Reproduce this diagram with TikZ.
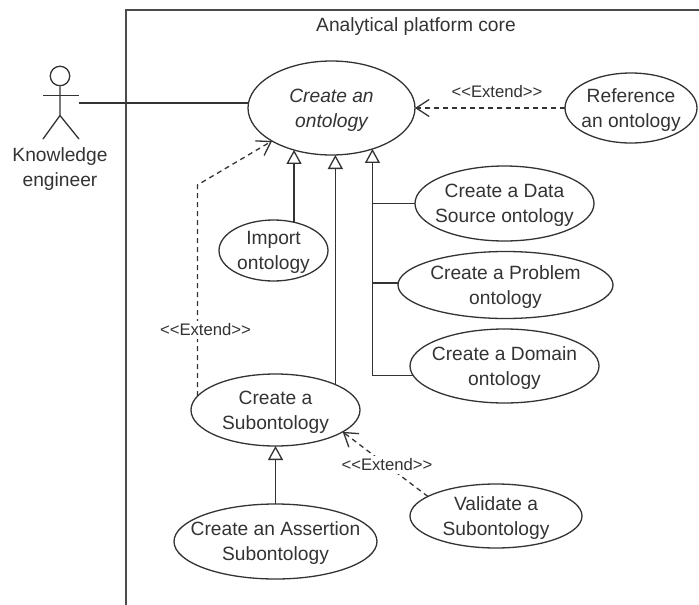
\documentclass[tikz,border=0pt]{standalone}
\usepackage{fontspec}
\setmainfont{Liberation Sans}
\usetikzlibrary{arrows.meta,shapes.geometric}
\begin{document}
\begin{tikzpicture}[x=1pt,y=-1pt,line width=1.3pt,draw=black!80,
   every node/.style={font=\fontsize{19.2}{25}\selectfont,text=black!80,align=center},
   usecase/.style={draw,ellipse,inner xsep=-40pt,inner ysep=-20pt,outer sep=0pt,text depth=0pt},
   stereo/.style={font=\fontsize{16.7}{20}\selectfont,fill=white,inner xsep=1pt,inner ysep=2.5pt},
   extendline/.style={dash pattern=on 5pt off 4pt,-{Straight Barb[length=13pt,width=17pt]}},
   genline/.style={-{Triangle[length=14pt,width=15pt,fill=white]}}]
   \useasboundingbox (0,0) rectangle (699,605);
   \draw [line width=2pt,black!70] (699,10) -- (126,10) -- (126,605);
   \node [text depth=0pt] (title) at (416,25) {Analytical platform core};
   \node [draw,circle,minimum size=19.5pt,inner sep=0pt] (head) at (60,76) {};
   \coordinate (hip) at (60,115.5);
   \coordinate (armL) at (43,95.5);
   \coordinate (armR) at (79,95.5);
   \coordinate (footL) at (43,139);
   \coordinate (footR) at (79,139);
   \coordinate (hand) at (79,103);
   \draw (head) -- (hip) -- (footL);
   \draw (hip) -- (footR);
   \draw (armL) -- (armR);
   \node [text depth=0pt] (actor) at (60,167.5) {Knowledge\\engineer};
   \node [usecase,minimum width=167pt,minimum height=94pt] (onto) at (331.5,108) {\itshape Create an\\\itshape ontology};
   \node [usecase,minimum width=132pt,minimum height=70pt] (refer) at (631,108) {Reference\\an ontology};
   \node [usecase,minimum width=179pt,minimum height=75pt] (data) at (504.5,203.5) {Create a Data\\Source ontology};
   \node [usecase,minimum width=215pt,minimum height=67pt] (probl) at (505.5,285) {Create a Problem\\ontology};
   \node [usecase,minimum width=189pt,minimum height=74pt] (domain) at (504.5,366) {Create a Domain\\ontology};
   \node [usecase,minimum width=109pt,minimum height=61pt] (impo) at (273.5,250.5) {Import\\ontology};
   \node [usecase,minimum width=169pt,minimum height=72pt] (subo) at (275.5,410) {Create a\\Subontology};
   \node [usecase,minimum width=203pt,minimum height=75pt] (asse) at (275.5,541.5) {Create an Assertion\\Subontology};
   \node [usecase,minimum width=172pt,minimum height=64pt] (valid) at (496,516) {Validate a\\Subontology};
   \coordinate (bend) at (197,185);
   \draw (hand) -- (hand -| onto.177);
   \draw [genline] (impo.54) -- (impo.54 |- onto.-132);
   \draw [genline] (subo.23) -- (subo.23 |- onto.south);
   \draw [genline] (domain.-174) -| (onto.-45);
   \draw (data.west) -- (data.west -| onto.-45);
   \draw (probl.179) -- (probl.179 -| onto.-45);
   \draw [genline] (asse) -- (subo);
   \draw [extendline] (refer) -- (onto);
   \draw [extendline] (subo.170) -- (subo.170 |- bend) -- (onto.-151);
   \draw [extendline] (valid.164) -- (subo.-18);
   \node [stereo] (extA) at (497,92) {<{}<Extend>{}>};
   \node [stereo] (extB) at (205.5,330) {<{}<Extend>{}>};
   \node [stereo] (extC) at (387,465) {<{}<Extend>{}>};
\end{tikzpicture}
\end{document}
